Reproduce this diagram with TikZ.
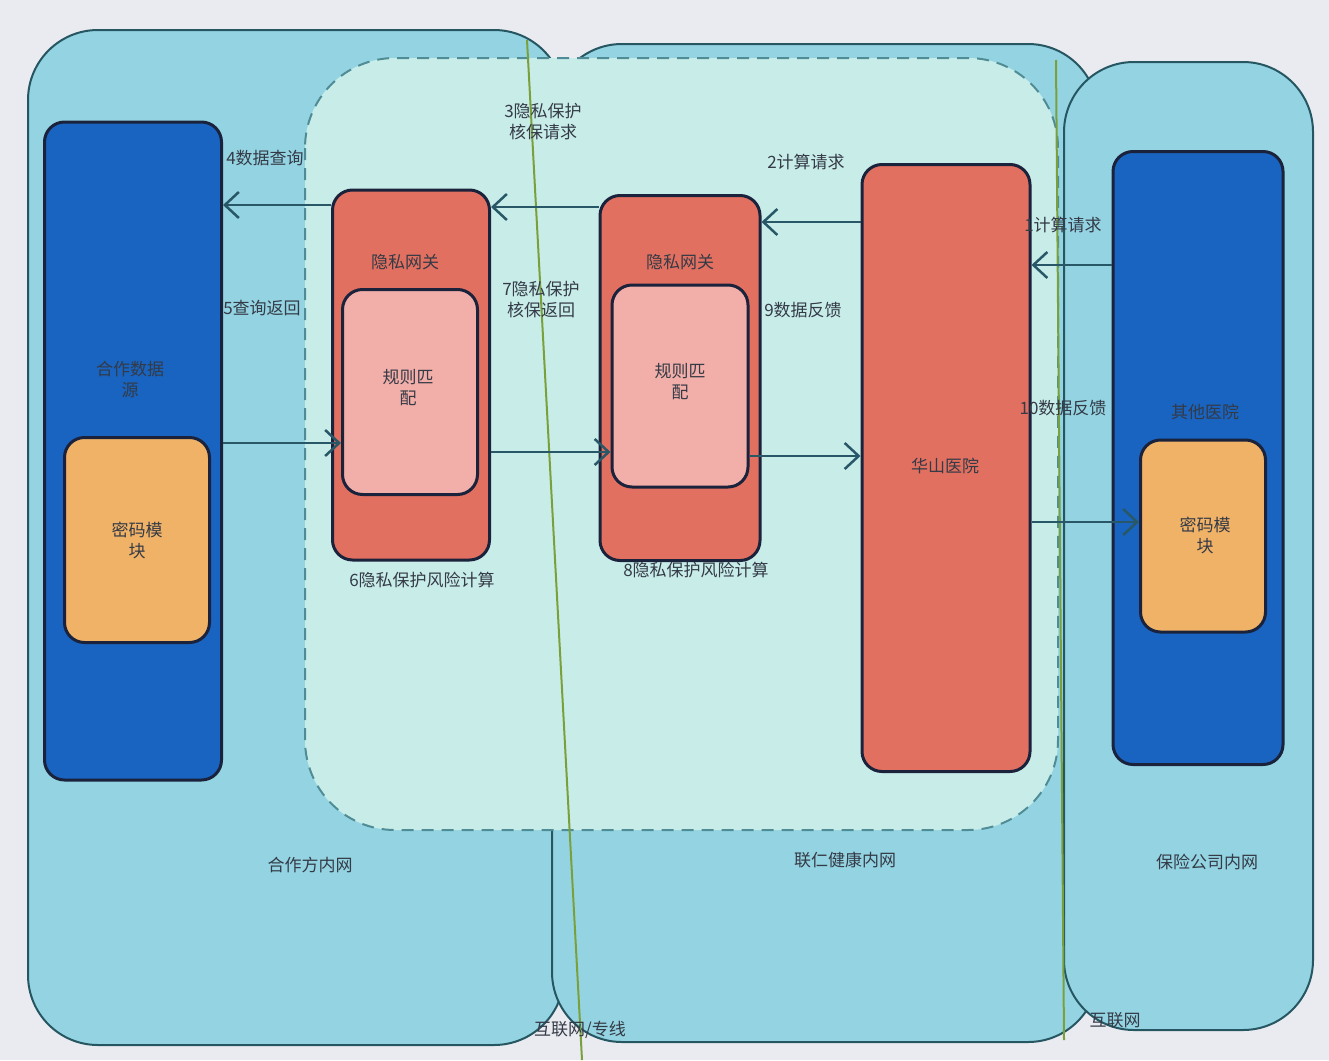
\documentclass[tikz,border=0pt]{standalone}
\usepackage{fontspec}
\setmainfont{Noto Sans CJK SC}
\usetikzlibrary{arrows.meta}
\definecolor{bgc}{RGB}{234,235,240}
\definecolor{regfill}{RGB}{148,212,226}
\definecolor{regline}{RGB}{38,86,98}
\definecolor{zonefill}{RGB}{200,237,233}
\definecolor{zoneline}{RGB}{80,140,150}
\definecolor{dblue}{RGB}{24,100,192}
\definecolor{orng}{RGB}{240,178,102}
\definecolor{redc}{RGB}{226,112,96}
\definecolor{pinkc}{RGB}{242,174,168}
\definecolor{outl}{RGB}{26,34,60}
\definecolor{arrc}{RGB}{40,88,104}
\definecolor{grn}{RGB}{122,160,60}
\definecolor{txtc}{RGB}{52,58,70}
\tikzset{
  region/.style={draw=regline, line width=2pt, fill=regfill, rounded corners=70pt},
  zone/.style={draw=zoneline, line width=2pt, dashed, dash pattern=on 12pt off 8pt, fill=zonefill, rounded corners=90pt},
  box/.style={draw=outl, line width=3pt, rounded corners=20pt, inner sep=0pt},
  bluebox/.style={box, fill=dblue},
  orbox/.style={box, fill=orng},
  redbox/.style={box, fill=redc},
  pinkbox/.style={box, fill=pinkc},
  lbl/.style={text=txtc, font=\fontsize{17}{21}\selectfont, align=center, inner sep=1pt},
  arr/.style={draw=arrc, line width=2.5pt, -{Straight Barb[length=14pt,width=26pt,line width=2.5pt]}},
  gline/.style={draw=grn, line width=2pt},
}
\begin{document}
\begin{tikzpicture}[x=1pt,y=-1pt]
\fill[bgc] (0,0) rectangle (1329,1060);
\useasboundingbox (0,0) rectangle (1329,1060);
% network regions
\draw[region] (28,30) rectangle (564,1045);
\draw[region] (552,44) rectangle (1098,1042);
\draw[region] (1064,62) rectangle (1313,1030);
% privacy zone
\draw[zone] (305,58) rectangle (1058,830);
% boundary lines
\draw[gline] (527,40) -- (582,1060);
\draw[gline] (1056,60) -- (1064,1040);
% nodes
\node[bluebox, minimum width=177pt, minimum height=658pt] (lb) at (133,451) {};
\node[orbox, minimum width=145pt, minimum height=205pt] (lo) at (137,540) {};
\node[redbox, minimum width=157pt, minimum height=370pt] (g1) at (411,375) {};
\node[pinkbox, minimum width=135pt, minimum height=205pt] (g1i) at (410,392) {};
\node[redbox, minimum width=160pt, minimum height=365pt] (g2) at (680,378) {};
\node[pinkbox, minimum width=136pt, minimum height=202pt] (g2i) at (680,386) {};
\node[redbox, minimum width=168pt, minimum height=607pt] (hs) at (946,468) {};
\node[bluebox, minimum width=170pt, minimum height=613pt] (rb) at (1198,458) {};
\node[orbox, minimum width=125pt, minimum height=192pt] (ro) at (1203,536) {};
% node texts
\node[lbl] (tlb) at (130,380) {合作数据\\源};
\node[lbl] (tlo) at (137,540) {密码模\\块};
\node[lbl] (tg1) at (405,262) {隐私网关};
\node[lbl] (tg1i) at (408,388) {规则匹\\配};
\node[lbl] (tg2) at (680,262) {隐私网关};
\node[lbl] (tg2i) at (680,382) {规则匹\\配};
\node[lbl] (ths) at (945,466) {华山医院};
\node[lbl] (trb) at (1205,412) {其他医院};
\node[lbl] (tro) at (1205,535) {密码模\\块};
% arrows
\draw[arr] (rb.west |- 0,265) -- (hs.east |- 0,265);
\draw[arr] (hs.west |- 0,222) -- (g2.east |- 0,222);
\draw[arr] (g2.west |- 0,207) -- (g1.east |- 0,207);
\draw[arr] (g1.west |- 0,205) -- (lb.east |- 0,205);
\draw[arr] (lb.east |- 0,443) -- (g1i.west |- 0,443);
\draw[arr] (g1.east |- 0,452) -- (g2i.west |- 0,452);
\draw[arr] (g2i.east |- 0,456) -- (hs.west |- 0,456);
\draw[arr] (hs.east |- 0,522) -- (ro.west |- 0,522);
% arrow labels
\node[lbl] (l1) at (1063,225) {1计算请求};
\node[lbl] (l2) at (806,162) {2计算请求};
\node[lbl] (l3) at (543,122) {3隐私保护\\核保请求};
\node[lbl] (l4) at (265,158) {4数据查询};
\node[lbl] (l5) at (262,308) {5查询返回};
\node[lbl] (l6) at (422,580) {6隐私保护风险计算};
\node[lbl] (l7) at (541,300) {7隐私保护\\核保返回};
\node[lbl] (l8) at (696,570) {8隐私保护风险计算};
\node[lbl] (l9) at (803,310) {9数据反馈};
\node[lbl] (l10) at (1063,408) {10数据反馈};
% region labels
\node[lbl] (n1) at (310,865) {合作方内网};
\node[lbl] (n2) at (845,860) {联仁健康内网};
\node[lbl] (n3) at (1207,862) {保险公司内网};
\node[lbl] (n4) at (580,1030) {互联网/专线};
\node[lbl] (n5) at (1115,1020) {互联网};
\end{tikzpicture}
\end{document}
